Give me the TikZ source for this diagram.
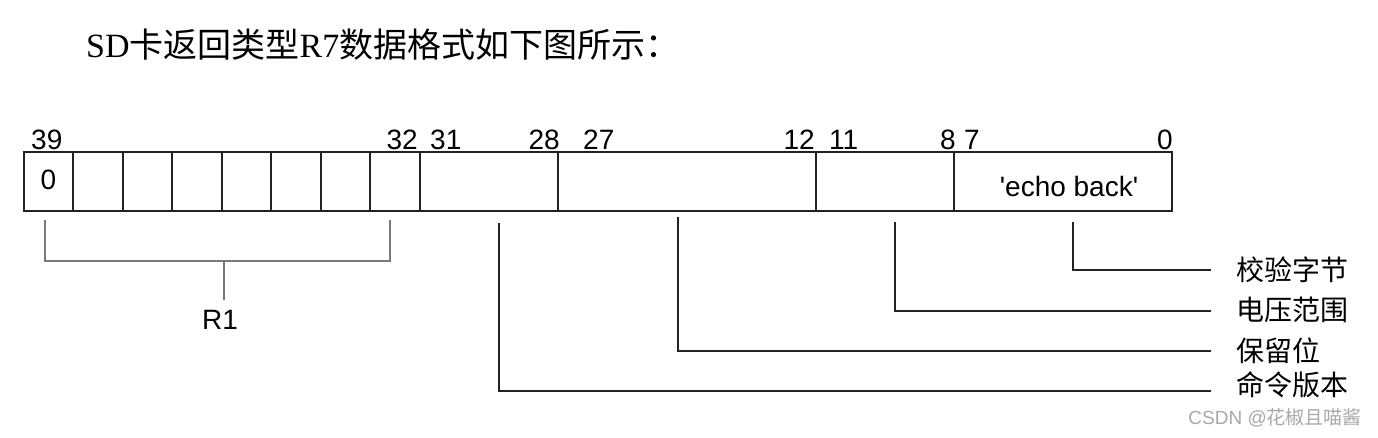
\documentclass[tikz,border=0pt]{standalone}
\usepackage{fontspec}
\setmainfont{Liberation Sans}
\newfontfamily\cjk{Noto Sans CJK SC}
\newfontfamily\serifl{Liberation Serif}
\definecolor{linec}{HTML}{222222}
\definecolor{brk}{HTML}{7A7A7A}
\definecolor{wm}{HTML}{A8A8A8}
\begin{document}
\begin{tikzpicture}[x=1pt,y=-1pt,
  field/.style={draw=linec, line width=2pt, minimum height=59pt, anchor=north west, inner sep=0pt, outer sep=0pt},
  bitnum/.style={inner sep=0pt, font=\fontsize{28}{28}\selectfont},
  lbl/.style={inner sep=0pt, anchor=west, font=\cjk\fontsize{28}{28}\selectfont},
  conn/.style={draw=linec, line width=2pt},
  brace/.style={draw=brk, line width=1.5pt}]
\useasboundingbox (0,0) rectangle (1378,438);
% title
\node[inner sep=0pt, anchor=west] (title) at (86,45) {\fontsize{34}{34}\selectfont\serifl SD\cjk 卡返回类型\serifl R7\cjk 数据格式如下图所示：};
% fields
\node[field, minimum width=49pt] (f1) at (24,152) {};
\node[field, minimum width=50pt] (f2) at (73,152) {};
\node[field, minimum width=49pt] (f3) at (123,152) {};
\node[field, minimum width=50pt] (f4) at (172,152) {};
\node[field, minimum width=49pt] (f5) at (222,152) {};
\node[field, minimum width=50pt] (f6) at (271,152) {};
\node[field, minimum width=49pt] (f7) at (321,152) {};
\node[field, minimum width=50pt] (f8) at (370,152) {};
\node[field, minimum width=138pt] (cmd) at (420,152) {};
\node[field, minimum width=258pt] (res) at (558,152) {};
\node[field, minimum width=138pt] (volt) at (816,152) {};
\node[field, minimum width=218pt] (echo) at (954,152) {};
% field texts
\node[bitnum, anchor=base] (zero) at (48.5,190) {0};
\node[bitnum, anchor=base] (echotxt) at (1069,197) {\textquotesingle echo back\textquotesingle};
% bit numbers
\node[bitnum, anchor=base west] (n39) at (31,150) {39};
\node[bitnum, anchor=base east] (n32) at (418,150) {32};
\node[bitnum, anchor=base west] (n31) at (430,150) {31};
\node[bitnum, anchor=base east] (n28) at (560,150) {28};
\node[bitnum, anchor=base west] (n27) at (583,150) {27};
\node[bitnum, anchor=base east] (n12) at (815,150) {12};
\node[bitnum, anchor=base west] (n11) at (829,150) {11};
\node[bitnum, anchor=base east] (n8) at (956,150) {8};
\node[bitnum, anchor=base west] (n7) at (964,150) {7};
\node[bitnum, anchor=base east] (n0) at (1173,150) {0};
% R1 bracket
\coordinate (bl) at (45,220);
\coordinate (br) at (390,220);
\coordinate (bm) at (224,261);
\coordinate (bs) at (224,300);
\node[bitnum, anchor=center] (r1) at (220,320) {R1};
\draw[brace] (bl) |- (br |- bm) -- (br);
\draw[brace] (bm) -- (bs);
% labels on right
\node[lbl] (lchk) at (1236,270) {校验字节};
\node[lbl] (lvolt) at (1236,310) {电压范围};
\node[lbl] (lres) at (1236,351) {保留位};
\node[lbl] (lcmd) at (1236,385) {命令版本};
% connectors
\coordinate (s1) at (1073,222);
\coordinate (s2) at (895,222);
\coordinate (s3) at (678,217);
\coordinate (s4) at (499,223);
\coordinate (e1) at (1211,270.5);
\coordinate (e2) at (1211,310.5);
\coordinate (e3) at (1211,350.5);
\coordinate (e4) at (1211,390.5);
\draw[conn] (s1) |- (e1);
\draw[conn] (s2) |- (e2);
\draw[conn] (s3) |- (e3);
\draw[conn] (s4) |- (e4);
% watermark
\node[inner sep=0pt, anchor=east, text=wm] (wmark) at (1362,418) {\fontsize{19}{19}\selectfont CSDN @\cjk 花椒且喵酱};
\end{tikzpicture}
\end{document}
